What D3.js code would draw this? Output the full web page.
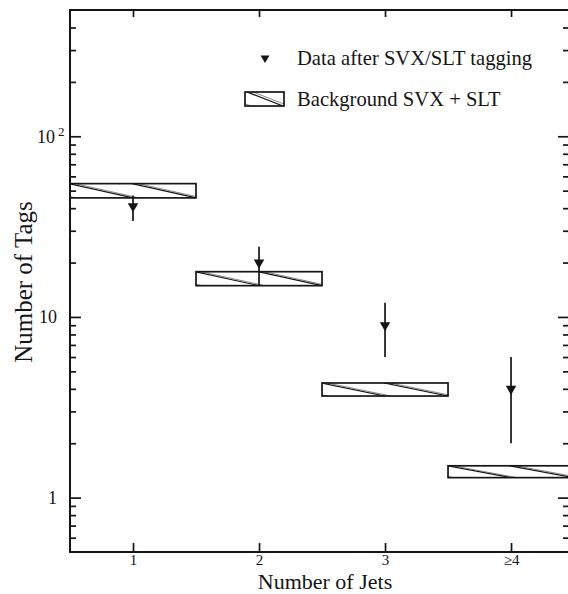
<!DOCTYPE html>
<html>
<head>
<meta charset="utf-8">
<script src="https://cdn.jsdelivr.net/npm/d3@7"></script>
<style>
  body { margin: 0; background: #fff; }
  text { font-family: "Liberation Serif", "DejaVu Serif", serif; fill: #151515; }
</style>
</head>
<body>
<div id="chart"></div>
<script>
// values
const jets = [1, 2, 3, 4];
const jetLabels = ['1', '2', '3', '\u2265' + '4'];
const bgLow = [45.6, 14.9, 3.65, 1.29];
const bgHigh = [54.7, 17.8, 4.31, 1.50];
const dataVal = [41, 20, 9, 4];
const dataLow = [34, 15, 6, 2];
const dataHigh = [47, 24.5, 12, 6];
const yMajor = [1, 10, 100];
const yMinor = [0.6, 0.7, 0.8, 0.9, 2, 3, 4, 5, 6, 7, 8, 9, 20, 30, 40, 50, 60, 70, 80, 90, 200, 300, 400];

const width = 568, height = 594;
const mLeft = 70, mRight = 569, mTop = 10, mBottom = 552;

const svg = d3.select('#chart')
    .append('svg')
    .attr('width', width)
    .attr('height', height);

const x = d3.scaleLinear().domain([0.5, 4.46]).range([mLeft, mRight]);
const y = d3.scaleLog().domain([0.5, 500]).range([mBottom, mTop]);

svg.append('clipPath')
    .attr('id', 'plot')
    .append('rect')
    .attr('x', mLeft).attr('y', mTop)
    .attr('width', mRight - mLeft).attr('height', mBottom - mTop);

const ink = '#151515';

// background boxes with sparse hatching
const hatch = (g, x0, x1, y0, y1, run, step) => {
    const id = 'c' + Math.round(x0) + '_' + Math.round(y0);
    g.append('clipPath').attr('id', id)
        .append('rect')
        .attr('x', x0).attr('y', y0)
        .attr('width', x1 - x0).attr('height', y1 - y0);
    const hg = g.append('g').attr('clip-path', 'url(#' + id + ')');
    for (let s = x0 - run; s < x1; s += step) {
        hg.append('line')
            .attr('x1', s).attr('y1', y0)
            .attr('x2', s + run).attr('y2', y1)
            .attr('stroke', ink).attr('stroke-width', 1.2);
        hg.append('line')
            .attr('x1', s + 6).attr('y1', y0)
            .attr('x2', s + 6 + run).attr('y2', y1)
            .attr('stroke', '#555').attr('stroke-width', 0.7);
    }
    g.append('rect')
        .attr('x', x0).attr('y', y0)
        .attr('width', x1 - x0).attr('height', y1 - y0)
        .attr('fill', 'none')
        .attr('stroke', ink)
        .attr('stroke-width', 1.7);
};

const plot = svg.append('g').attr('clip-path', 'url(#plot)');

jets.forEach((j, i) => {
    hatch(plot, x(j - 0.5), x(j + 0.5), y(bgHigh[i]), y(bgLow[i]), 64, 63);
});

// data points: error bars and downward triangles
const pts = svg.append('g');
pts.selectAll('line.err')
    .data(jets)
    .enter().append('line')
    .attr('class', 'err')
    .attr('x1', d => x(d)).attr('x2', d => x(d))
    .attr('y1', (d, i) => y(dataHigh[i]))
    .attr('y2', (d, i) => y(dataLow[i]))
    .attr('stroke', ink)
    .attr('stroke-width', 1.7);

const tri = d3.symbol().type(d3.symbolTriangle).size(48);
pts.selectAll('path.pt')
    .data(jets)
    .enter().append('path')
    .attr('class', 'pt')
    .attr('d', tri)
    .attr('fill', ink)
    .attr('transform', (d, i) => `translate(${x(d)},${y(dataVal[i])}) rotate(180)`);

// axes, ticks pointing inward
const styleAxis = (g) => {
    g.select('.domain').remove();
    g.selectAll('line').attr('stroke', ink).attr('stroke-width', 1.7);
    g.selectAll('text').attr('fill', ink);
};

svg.append('g')
    .attr('transform', `translate(${mLeft},0)`)
    .call(d3.axisLeft(y).tickValues(yMajor).tickSize(-11).tickPadding(13).tickFormat(d3.format('d')))
    .call(styleAxis)
    .call(g => g.selectAll('text').attr('font-size', 18))
    .call(g => {
        const t = g.selectAll('.tick').filter(d => d === 100).select('text');
        t.text('').attr('text-anchor', 'start').attr('x', -33);
        t.append('tspan').text('10');
        t.append('tspan').text('2').attr('dx', 3).attr('dy', '-0.5em').attr('font-size', 13);
    });

svg.append('g')
    .attr('transform', `translate(${mLeft},0)`)
    .call(d3.axisLeft(y).tickValues(yMinor).tickSize(-6).tickFormat(''))
    .call(styleAxis);

svg.append('g')
    .attr('transform', `translate(${mRight},0)`)
    .call(d3.axisRight(y).tickValues(yMajor).tickSize(-11).tickFormat(''))
    .call(styleAxis);

svg.append('g')
    .attr('transform', `translate(${mRight},0)`)
    .call(d3.axisRight(y).tickValues(yMinor).tickSize(-6).tickFormat(''))
    .call(styleAxis);

svg.append('g')
    .attr('transform', `translate(0,${mBottom})`)
    .call(d3.axisBottom(x).tickValues(jets).tickSize(-9).tickPadding(2).tickFormat((d, i) => jetLabels[i]))
    .call(styleAxis)
    .call(g => g.selectAll('text').attr('font-size', 15));

svg.append('g')
    .attr('transform', `translate(0,${mTop})`)
    .call(d3.axisTop(x).tickValues(jets).tickSize(-7).tickFormat(''))
    .call(styleAxis);

// frame
svg.append('rect')
    .attr('x', mLeft).attr('y', mTop)
    .attr('width', mRight - mLeft).attr('height', mBottom - mTop)
    .attr('fill', 'none')
    .attr('stroke', ink)
    .attr('stroke-width', 2);

// axis titles
svg.append('text')
    .attr('x', 325)
    .attr('y', 589)
    .attr('text-anchor', 'middle')
    .attr('font-size', 22)
    .text('Number of Jets');

svg.append('text')
    .attr('transform', 'translate(32,282) rotate(-90)')
    .attr('text-anchor', 'middle')
    .attr('font-size', 25)
    .text('Number of Tags');

// legend
const legend = svg.append('g');
legend.append('path')
    .attr('d', d3.symbol().type(d3.symbolTriangle).size(34))
    .attr('fill', ink)
    .attr('transform', 'translate(265,58) rotate(180)');
legend.append('text')
    .attr('x', 297).attr('y', 65)
    .attr('font-size', 20.6)
    .text('Data after SVX/SLT tagging');

hatch(legend, 245, 284, 92, 106, 36, 38);
legend.append('text')
    .attr('x', 297).attr('y', 106)
    .attr('font-size', 20.6)
    .text('Background SVX + SLT');
</script>
</body>
</html>
